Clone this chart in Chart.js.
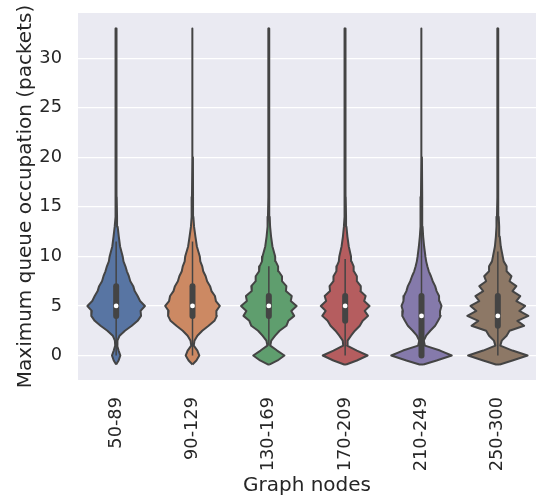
<!DOCTYPE html>
<html>
<head>
<meta charset="utf-8">
<script src="https://cdn.jsdelivr.net/npm/chart.js@4/dist/chart.umd.min.js"></script>
<style>
  html, body { margin: 0; padding: 0; background: #ffffff; }
  #wrap { width: 540px; height: 501px; position: relative; }
</style>
</head>
<body>
<div id="wrap"><canvas id="violin"></canvas></div>
<script>
// categories (graph node ranges)
const categories = ['50-89', '90-129', '130-169', '170-209', '210-249', '250-300'];
const yTicks = [0, 5, 10, 15, 20, 25, 30];

const levels = [-0.9, -0.5, 0, 0.5, 1, 1.5, 2, 2.5, 3, 3.5, 4, 4.5, 5, 5.5, 6, 6.5, 7, 7.5, 8, 8.5, 9, 9.5, 10, 11, 12, 13, 14, 16, 20, 33];

// relative density (half width) of each violin at the levels above
const dens5089   = [0, 2.5, 4.3, 2.5, 1.0, 1.3, 3.5, 9, 16, 22, 25.5, 25, 29.5, 24.5, 22, 19, 17.5, 14.5, 13, 11, 9.5, 7.5, 6.7, 4, 2.7, 1.5, 0.9, 0.55, 0.45, 0.25];
const dens90129  = [0, 4, 7, 5, 1.3, 2, 5, 10, 16.5, 22.5, 25, 24.5, 28, 24, 23, 19.5, 18, 15, 13.5, 11, 10, 8, 7.5, 4.5, 3, 1.6, 0.9, 0.55, 0.45, 0.25];
const dens130169 = [1, 9, 16, 8.5, 1.5, 2.5, 6.5, 11, 18, 20, 26, 23, 28.5, 22.5, 23.5, 17.5, 18, 13.5, 13.5, 10, 9.5, 7, 6.5, 3.7, 2.3, 1.3, 0.9, 0.55, 0.45, 0.25];
const dens170209 = [1, 12, 23, 12, 2, 2.5, 6, 10, 15, 18, 23.5, 20, 25, 19.5, 21, 15.5, 16, 12, 12, 9, 8.7, 6.5, 6, 3.7, 2.3, 1.3, 0.9, 0.55, 0.45, 0.25];
const dens210249 = [2, 15.5, 31, 19, 3.5, 2.3, 4.7, 9, 14, 17, 19.7, 19, 20.5, 18.5, 18, 15.5, 14, 11.5, 9.7, 7.5, 6, 4.8, 4, 2.7, 1.7, 1.1, 0.9, 0.55, 0.45, 0.25];
const dens250300 = [2, 15, 30.5, 15, 2.5, 4, 9, 12, 27, 20, 31.3, 22, 28, 19, 23, 15, 19, 12, 14, 9, 9, 6, 5, 3, 2, 1.4, 0.9, 0.55, 0.45, 0.25];

// box statistics
const q1s      = [4, 4, 4, 3.5, 0, 3];
const medians  = [5, 5, 5, 5, 4, 4];
const q3s      = [7, 7, 6, 6, 6, 6];
const whiskLo  = [0, 0, 1, 0, 0, 0];
const whiskHi  = [11.5, 11.5, 9, 9.75, 15, 10.5];

const colors = ['#5875A3', '#CC8963', '#5F9E6E', '#B55D5F', '#857AAB', '#8D7866'];
const allDens = [dens5089, dens90129, dens130169, dens170209, dens210249, dens250300];

const maxDens = Math.max(...allDens.map(d => Math.max(...d)));
const halfWidth = 0.4; // seaborn: width 0.8 per category

const datasets = [];

// violin bodies as closed polygons
allDens.forEach((d, i) => {
    const pts = [];
    levels.forEach((y, k) => pts.push({ x: i + d[k] / maxDens * halfWidth, y: y }));
    for (let k = levels.length - 1; k >= 0; k--) {
        pts.push({ x: i - d[k] / maxDens * halfWidth, y: levels[k] });
    }
    pts.push(pts[0]);
    datasets.push({
        type: 'line',
        data: pts,
        borderColor: '#444444',
        backgroundColor: colors[i],
        borderWidth: 2,
        borderJoinStyle: 'round',
        fill: 'shape',
        pointRadius: 0,
        tension: 0,
        order: 3
    });
});

// whiskers and boxes
categories.forEach((c, i) => {
    datasets.push({
        type: 'line',
        data: [{ x: i, y: whiskLo[i] }, { x: i, y: whiskHi[i] }],
        borderColor: '#444444',
        borderWidth: 1.5,
        pointRadius: 0,
        fill: false,
        order: 2
    });
    datasets.push({
        type: 'line',
        data: [{ x: i, y: q1s[i] }, { x: i, y: q3s[i] }],
        borderColor: '#444444',
        borderWidth: 6,
        borderCapStyle: 'round',
        pointRadius: 0,
        fill: false,
        order: 1
    });
});

// medians
datasets.push({
    type: 'scatter',
    data: medians.map((m, i) => ({ x: i, y: m })),
    backgroundColor: '#ffffff',
    borderWidth: 0,
    pointRadius: 2.4,
    order: 0
});

const plotBg = {
    id: 'plotBg',
    beforeDraw(chart) {
        const { ctx, chartArea } = chart;
        ctx.save();
        ctx.fillStyle = '#EAEAF2';
        ctx.fillRect(chartArea.left, chartArea.top, chartArea.right - chartArea.left, chartArea.bottom - chartArea.top);
        ctx.restore();
    }
};

const tickFont = { family: 'DejaVu Sans', size: 17.8 };
const labelFont = { family: 'DejaVu Sans', size: 20 };

new Chart(document.getElementById('violin'), {
    type: 'line',
    data: { datasets: datasets },
    plugins: [plotBg],
    options: {
        responsive: true,
        maintainAspectRatio: false,
        animation: false,
        layout: { padding: { top: 13, right: 0, left: 0, bottom: 0 } },
        plugins: {
            legend: { display: false },
            tooltip: { enabled: false }
        },
        scales: {
            x: {
                type: 'linear',
                min: -0.5,
                max: 5.5,
                afterBuildTicks: (scale) => {
                    scale.ticks = categories.map((c, i) => ({ value: i }));
                },
                afterFit: (scale) => {
                    scale.height = 121;
                    scale.paddingLeft = 0;
                    scale.paddingRight = 0;
                },
                grid: { display: false, drawTicks: false },
                border: { display: false },
                ticks: {
                    autoSkip: false,
                    minRotation: 90,
                    maxRotation: 90,
                    padding: 17,
                    color: '#262626',
                    font: tickFont,
                    callback: (v) => categories[v]
                },
                title: {
                    display: true,
                    text: 'Graph nodes',
                    color: '#262626',
                    font: labelFont,
                    padding: { top: 0, bottom: 3 }
                }
            },
            y: {
                type: 'linear',
                min: -2.47,
                max: 34.56,
                afterBuildTicks: (scale) => {
                    scale.ticks = yTicks.map(v => ({ value: v }));
                },
                afterFit: (scale) => {
                    scale.width = 78;
                    scale.paddingTop = 0;
                    scale.paddingBottom = 0;
                },
                grid: { color: '#ffffff', lineWidth: 1.3, drawTicks: false },
                border: { display: false },
                ticks: {
                    padding: 16,
                    color: '#262626',
                    font: tickFont
                },
                title: {
                    display: true,
                    text: 'Maximum queue occupation (packets)',
                    color: '#262626',
                    font: labelFont,
                    padding: { top: 14, bottom: 0 }
                }
            }
        }
    }
});
</script>
</body>
</html>
